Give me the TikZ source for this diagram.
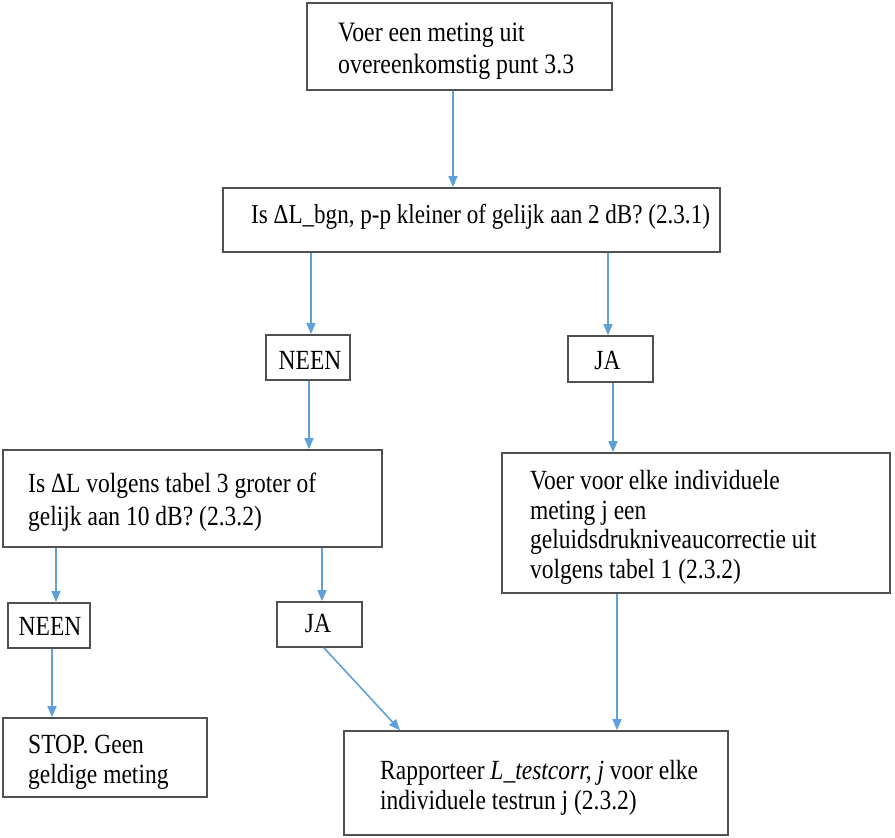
\documentclass[tikz,border=0pt]{standalone}
\usepackage{fontspec}
\setmainfont{Liberation Serif}
\usetikzlibrary{arrows.meta,fit}
\definecolor{arrblue}{RGB}{96,160,218}
\definecolor{boxgray}{RGB}{80,80,80}
\begin{document}
\begin{tikzpicture}[x=1pt,y=-1pt,
  box/.style={draw=boxgray, line width=1.7pt, fill=white, inner sep=0pt, rectangle},
  txt/.style={font=\fontsize{23.5}{25}\selectfont, align=left, inner sep=0pt, yscale=1.18, transform shape},
  arr/.style={draw=arrblue, line width=1.6pt, -{Triangle[width=9pt,length=11pt]}}]
\useasboundingbox (0,0) rectangle (895,838);
% boxes
\node[box, fit={(307,3) (612,90)}] (b1) {};
\node[box, fit={(223,188) (720,252)}] (b2) {};
\node[box, fit={(266,335) (350,380)}] (n1) {};
\node[box, fit={(568,336) (653,382)}] (j1) {};
\node[box, fit={(3,450) (382,547)}] (b3) {};
\node[box, fit={(502,453) (890,593)}] (b4) {};
\node[box, fit={(8,603) (90,648)}] (n2) {};
\node[box, fit={(277,602) (362,647)}] (j2) {};
\node[box, fit={(3,718) (207,797)}] (stop) {};
\node[box, fit={(344,731) (728,835)}] (b5) {};
% texts
\node[txt, font=\fontsize{23.8}{26.3}\selectfont, anchor=base west] (t1) at (338,73) {Voer een meting uit\\overeenkomstig punt 3.3};
\node[txt, font=\fontsize{23.1}{25}\selectfont, anchor=base west] (t2) at (251,223) {Is ΔL\_bgn, p-p kleiner of gelijk aan 2 dB? (2.3.1)};
\node[txt, anchor=base] (tn1) at (310,369) {NEEN};
\node[txt, anchor=base] (tj1) at (607.5,369) {JA};
\node[txt, font=\fontsize{23.5}{27.6}\selectfont, anchor=base west] (t3) at (28,525) {Is ΔL volgens tabel 3 groter of\\gelijk aan 10 dB? (2.3.2)};
\node[txt, anchor=base west] (t4) at (530,578) {Voer voor elke individuele\\meting j een\\geluidsdrukniveaucorrectie uit\\volgens tabel 1 (2.3.2)};
\node[txt, anchor=base] (tn2) at (50,635) {NEEN};
\node[txt, anchor=base] (tj2) at (318,632) {JA};
\node[txt, font=\fontsize{23.5}{25.4}\selectfont, anchor=base west] (tstop) at (28,783) {STOP. Geen\\geldige meting};
\node[txt, font=\fontsize{23.5}{25}\selectfont, anchor=base west] (t5) at (380,809) {Rapporteer \textit{L\_testcorr, j} voor elke\\individuele testrun j (2.3.2)};
% arrows
\draw[arr] ([xshift=-6.5pt]b1.south) -- ([xshift=-18.5pt]b2.north);
\draw[arr] ([xshift=-160.5pt]b2.south) -- ([xshift=3pt]n1.north);
\draw[arr] ([xshift=136.5pt]b2.south) -- ([xshift=-2.5pt]j1.north);
\draw[arr] ([xshift=1pt]n1.south) -- ([xshift=116.5pt]b3.north);
\draw[arr] ([xshift=2.5pt]j1.south) -- ([xshift=-83pt]b4.north);
\draw[arr] ([xshift=-136.5pt]b3.south) -- ([xshift=7pt]n2.north);
\draw[arr] ([xshift=129.5pt]b3.south) -- ([xshift=2.5pt]j2.north);
\draw[arr] ([xshift=3pt]n2.south) -- ([xshift=-53pt]stop.north);
\draw[arr] ([xshift=4.5pt]j2.south) -- ([xshift=-136pt]b5.north);
\draw[arr] ([xshift=-79pt]b4.south) -- ([xshift=81pt]b5.north);
\end{tikzpicture}
\end{document}
